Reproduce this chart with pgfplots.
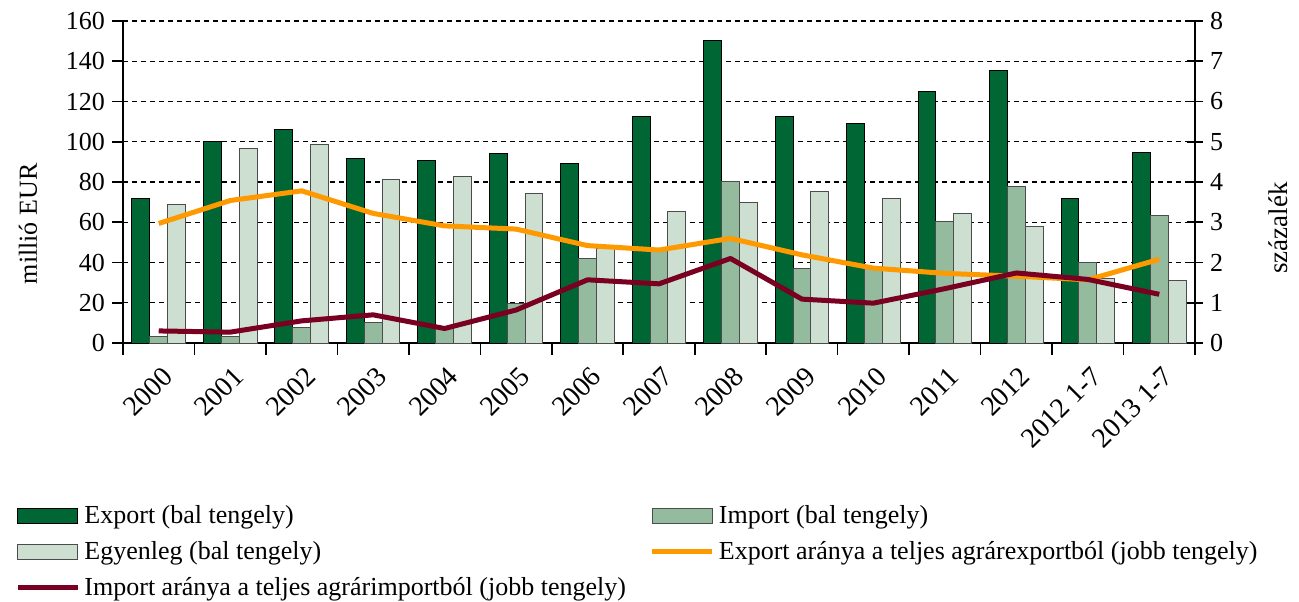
\documentclass[border=0pt]{standalone}
\usepackage{fontspec}
\setmainfont{Liberation Serif}
\usepackage{pgfplots}
\usepackage{pgfplotstable}
\pgfplotsset{compat=1.18}
\usetikzlibrary{calc}

\definecolor{exportc}{RGB}{0,102,51}
\definecolor{importc}{RGB}{148,187,158}
\definecolor{balc}{RGB}{204,223,208}
\definecolor{orangec}{RGB}{255,153,0}
\definecolor{maroonc}{RGB}{122,0,34}

\pgfplotsset{
  legbar/.style={legend image code/.code={\draw[##1] (0pt,-3.75pt) rectangle (30pt,3.75pt);}},
  legline/.style={legend image code/.code={\draw[##1] (0pt,0pt) -- (30pt,0pt);}},
}

\pgfplotstableread{
x exp imp bal expsh impsh
0 72.0 3.1 69.0 2.97 0.30
1 100.0 3.0 96.7 3.54 0.27
2 106.3 7.6 98.7 3.78 0.55
3 91.6 10.3 81.3 3.22 0.70
4 90.6 7.8 82.8 2.91 0.36
5 94.0 19.5 74.5 2.83 0.82
6 89.3 42.1 47.2 2.42 1.57
7 112.6 47.2 65.4 2.31 1.47
8 150.4 80.5 69.9 2.60 2.10
9 112.5 36.8 75.5 2.19 1.09
10 109.0 37.3 71.7 1.86 0.99
11 124.9 60.3 64.6 1.73 1.35
12 135.5 77.7 57.8 1.66 1.74
13 71.7 39.8 31.9 1.57 1.58
14 94.7 63.6 31.1 2.08 1.21
}\datatable

\begin{document}
\begin{tikzpicture}
\begin{axis}[
  scale only axis, width=536pt, height=161pt,
  xmin=-0.5, xmax=14.5, ymin=0, ymax=160,
  axis x line*=bottom, axis y line*=left,
  axis line style={black, line width=0.8pt},
  xtick={0,...,14},
  xticklabels={2000,2001,2002,2003,2004,2005,2006,2007,2008,2009,2010,2011,2012,2012 1-7,2013 1-7},
  major x tick style={draw=none},
  minor xtick={-0.5,0.5,...,14.5},
  xtick align=outside, ytick align=outside,
  major tick length=5.5pt, minor tick length=6pt,
  tick style={black, line width=0.8pt},
  ytick={0,20,...,160},
  ymajorgrids,
  grid style={black, dash pattern=on 2.5pt off 2pt, line width=0.6pt},
  /pgf/number format/assume math mode=true,
  tick label style={font=\fontsize{13}{15}\selectfont},
  xticklabel style={rotate=45, anchor=north east, inner sep=1pt, xshift=-2pt, yshift=-3.5pt, font=\fontsize{14}{16}\selectfont},
  ylabel={millió EUR},
  every axis y label/.style={at={(rel axis cs:-0.0886,0.37)}, rotate=90, anchor=center, font=\fontsize{13}{16}\selectfont},
  legend columns=2,
  legend cell align=left,
  legend style={at={(-0.1007,-0.49)}, anchor=north west, draw=none, fill=none, inner sep=0pt,
    font=\fontsize{13}{16}\selectfont, row sep=3.5pt,
    /tikz/every even column/.append style={column sep=10pt}},
]
\coordinate (bl) at (rel axis cs:0,0);
\coordinate (tr) at (rel axis cs:1,1);
\addplot[ybar, bar width=0.25, bar shift=-0.25, fill=exportc, draw=black, line width=0.5pt, forget plot] table[x=x, y=exp] {\datatable};
\addplot[ybar, bar width=0.25, bar shift=0, fill=importc, draw=black!70, line width=0.5pt, forget plot] table[x=x, y=imp] {\datatable};
\addplot[ybar, bar width=0.25, bar shift=0.25, fill=balc, draw=black!70, line width=0.5pt, forget plot] table[x=x, y=bal] {\datatable};
\addlegendimage{legbar, fill=exportc, draw=black, line width=0.5pt}
\addlegendentry{Export (bal tengely)}
\addlegendimage{legbar, fill=importc, draw=black!70, line width=0.5pt}
\addlegendentry{Import (bal tengely)}
\addlegendimage{legbar, fill=balc, draw=black!70, line width=0.5pt}
\addlegendentry{Egyenleg (bal tengely)}
\addlegendimage{legline, draw=orangec, line width=2.5pt}
\addlegendentry{Export aránya a teljes agrárexportból (jobb tengely)}
\addlegendimage{legline, draw=maroonc, line width=2.5pt}
\addlegendentry{Import aránya a teljes agrárimportból (jobb tengely)}
\end{axis}
\begin{axis}[
  scale only axis, width=536pt, height=161pt,
  xmin=-0.5, xmax=14.5, ymin=0, ymax=8,
  axis x line=none, axis y line*=right,
  axis line style={black, line width=0.8pt},
  ytick={0,...,8},
  ytick align=center, major tick length=8pt,
  tick style={black, line width=0.8pt},
  /pgf/number format/assume math mode=true,
  tick label style={font=\fontsize{13}{15}\selectfont},
  ylabel={százalék},
  every axis y label/.style={at={(rel axis cs:1.078,0.357)}, rotate=90, anchor=center, font=\fontsize{13.5}{16}\selectfont},
]
\addplot[orangec, line width=2.5pt, line join=round] table[x=x, y=expsh] {\datatable};
\addplot[maroonc, line width=2.5pt, line join=round] table[x=x, y=impsh] {\datatable};
\end{axis}
\pgfresetboundingbox
\path ($(bl)+(-61.5pt,-129pt)$) rectangle ($(tr)+(52pt,10.5pt)$);
\end{tikzpicture}
\end{document}
